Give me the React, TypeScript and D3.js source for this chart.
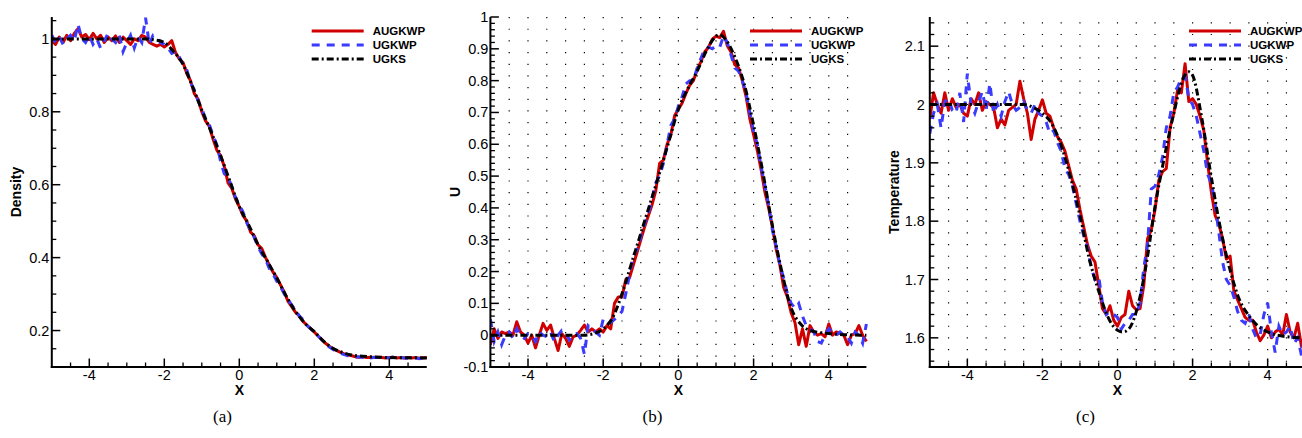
import React from 'react';
import * as d3 from 'd3';

// Cell centres of the particle solutions
const X_GRID = [
  -5.0, -4.9, -4.8, -4.7, -4.6, -4.5, -4.4, -4.3, -4.2, -4.1,
  -4.0, -3.9, -3.8, -3.7, -3.6, -3.5, -3.4, -3.3, -3.2, -3.1,
  -3.0, -2.9, -2.8, -2.7, -2.6, -2.5, -2.4, -2.3, -2.2, -2.1,
  -2.0, -1.9, -1.8, -1.7, -1.6, -1.5, -1.4, -1.3, -1.2, -1.1,
  -1.0, -0.9, -0.8, -0.7, -0.6, -0.5, -0.4, -0.3, -0.2, -0.1,
  0.0, 0.1, 0.2, 0.3, 0.4, 0.5, 0.6, 0.7, 0.8, 0.9,
  1.0, 1.1, 1.2, 1.3, 1.4, 1.5, 1.6, 1.7, 1.8, 1.9,
  2.0, 2.1, 2.2, 2.3, 2.4, 2.5, 2.6, 2.7, 2.8, 2.9,
  3.0, 3.1, 3.2, 3.3, 3.4, 3.5, 3.6, 3.7, 3.8, 3.9,
  4.0, 4.1, 4.2, 4.3, 4.4, 4.5, 4.6, 4.7, 4.8, 4.9, 5.0,
];

// (a) Density
const DENSITY_AUGKWP = [
  0.995, 0.985, 1.005, 0.99, 1.01, 0.995, 1.015, 1.028, 1.005, 1.012,
  0.998, 1.015, 1.0, 1.01, 0.99, 1.005, 0.995, 1.008, 0.99, 1.005,
  0.995, 0.985, 1.0, 0.995, 1.01, 1.005, 0.99, 0.985, 0.98, 0.985,
  0.978, 0.985, 0.995, 0.962, 0.945, 0.935, 0.905, 0.885, 0.85, 0.835,
  0.8, 0.775, 0.76, 0.725, 0.695, 0.68, 0.65, 0.605, 0.59, 0.56,
  0.54, 0.515, 0.5, 0.47, 0.46, 0.435, 0.425, 0.4, 0.38, 0.36,
  0.345, 0.325, 0.305, 0.28, 0.265, 0.25, 0.24, 0.225, 0.215, 0.205,
  0.196, 0.185, 0.175, 0.165, 0.157, 0.15, 0.145, 0.14, 0.136, 0.133,
  0.131, 0.128, 0.127, 0.128, 0.126, 0.127, 0.126, 0.127, 0.126, 0.125,
  0.126, 0.127, 0.125, 0.126, 0.125, 0.126, 0.125, 0.126, 0.124, 0.125, 0.126,
];
const DENSITY_UGKWP = [
  1.01, 0.99, 1.005, 0.985, 1.0, 1.01, 0.995, 1.04, 1.0, 0.99,
  1.01, 0.985, 1.0, 0.975, 0.995, 1.015, 1.0, 0.99, 1.01, 0.965,
  0.99, 1.01, 0.975, 1.005, 0.99, 1.058, 0.985, 1.01, 1.005, 0.99,
  0.985, 0.975, 0.96, 0.965, 0.95, 0.93, 0.915, 0.88, 0.86, 0.83,
  0.81, 0.78, 0.765, 0.735, 0.71, 0.665, 0.63, 0.62, 0.595, 0.565,
  0.545, 0.525, 0.495, 0.475, 0.455, 0.43, 0.41, 0.395, 0.37, 0.355,
  0.335, 0.32, 0.3, 0.285, 0.27, 0.255, 0.24, 0.23, 0.215, 0.205,
  0.195, 0.185, 0.175, 0.162, 0.155, 0.148, 0.142, 0.137, 0.134, 0.131,
  0.129, 0.127, 0.128, 0.126, 0.127, 0.125, 0.127, 0.126, 0.125, 0.126,
  0.125, 0.127, 0.124, 0.126, 0.125, 0.124, 0.126, 0.125, 0.123, 0.125, 0.126,
];
const DENSITY_UGKS_X = [-5, -2.5, -2.25, -2, -1.75, -1.5, -1.25, -1, -0.75, -0.5, -0.25, 0, 0.25, 0.5, 0.75, 1, 1.25, 1.5, 1.75, 2, 2.25, 2.5, 2.75, 3, 3.5, 4, 5];
const DENSITY_UGKS = [1, 1, 0.997, 0.99, 0.965, 0.93, 0.87, 0.805, 0.745, 0.68, 0.61, 0.54, 0.49, 0.435, 0.39, 0.344, 0.295, 0.252, 0.22, 0.197, 0.17, 0.151, 0.14, 0.133, 0.128, 0.126, 0.125];

// (b) U
const U_AUGKWP = [
  -0.03, 0.02, -0.01, 0.01, 0.005, 0.01, 0.0, 0.042, 0.01, 0.0,
  -0.025, 0.0, -0.04, 0.0, 0.037, 0.015, 0.032, -0.01, -0.048, 0.005,
  -0.01, -0.035, -0.005, 0.0, 0.015, 0.032, 0.01, 0.02, 0.01, 0.02,
  0.01, 0.03, 0.02, 0.1, 0.12, 0.12, 0.175, 0.18, 0.22, 0.26,
  0.3, 0.34, 0.375, 0.41, 0.455, 0.54, 0.55, 0.6, 0.63, 0.69,
  0.71, 0.73, 0.76, 0.785, 0.8, 0.835, 0.86, 0.89, 0.905, 0.93,
  0.94, 0.935, 0.955, 0.91, 0.89, 0.85, 0.84, 0.8, 0.75, 0.68,
  0.63, 0.58, 0.52, 0.45, 0.4, 0.34, 0.27, 0.22, 0.15, 0.12,
  0.07, 0.04, -0.03, 0.02, -0.035, 0.03, 0.01, 0.0, 0.005, -0.005,
  0.035, 0.0, 0.01, 0.005, 0.0, -0.03, 0.0, 0.005, 0.03, 0.0, -0.02,
];
const U_UGKWP = [
  0.05, -0.02, 0.01, -0.03, 0.0, 0.01, -0.01, 0.02, 0.0, -0.01,
  0.005, 0.0, -0.02, 0.01, 0.0, -0.005, 0.01, -0.02, 0.0, 0.015,
  0.01, -0.015, 0.0, 0.005, -0.01, -0.06, 0.03, 0.02, 0.01, 0.0,
  0.05, 0.045, 0.04, 0.05, 0.06, 0.075, 0.13, 0.19, 0.25, 0.27,
  0.31, 0.35, 0.38, 0.43, 0.48, 0.5, 0.54, 0.6, 0.66, 0.68,
  0.72, 0.75, 0.79, 0.8, 0.8, 0.84, 0.87, 0.9, 0.905, 0.9,
  0.91, 0.905, 0.94, 0.92, 0.88, 0.84, 0.83, 0.8, 0.76, 0.7,
  0.64, 0.6, 0.53, 0.47, 0.41, 0.33, 0.28, 0.22, 0.18, 0.13,
  0.1, 0.085, 0.1, 0.06, 0.03, 0.02, 0.01, -0.02, -0.025, 0.0,
  0.02, 0.01, 0.0, 0.01, 0.0, -0.005, -0.025, 0.01, 0.0, -0.025, 0.035,
];
const U_UGKS_X = [-5, -2.5, -2.25, -2, -1.75, -1.5, -1.25, -1, -0.75, -0.5, -0.25, 0, 0.25, 0.5, 0.75, 1, 1.1, 1.25, 1.5, 1.75, 2, 2.25, 2.5, 2.75, 3, 3.25, 3.5, 4, 4.5, 5];
const U_UGKS = [0, 0, 0.005, 0.02, 0.055, 0.13, 0.225, 0.32, 0.415, 0.51, 0.61, 0.71, 0.775, 0.83, 0.895, 0.94, 0.945, 0.93, 0.875, 0.79, 0.66, 0.51, 0.345, 0.2, 0.085, 0.035, 0.015, 0.005, 0.001, 0];

// (c) Temperature
const T_AUGKWP = [
  1.975, 2.02, 2.0, 1.985, 2.02, 1.99, 2.01, 1.995, 2.0, 1.985,
  1.98, 2.01, 2.0, 2.02, 1.99, 2.005, 2.0, 1.995, 1.96, 1.975,
  1.965, 1.99, 1.995, 2.0, 2.04, 2.01, 1.985, 1.94, 1.975, 1.99,
  2.008, 1.985, 1.98, 1.96, 1.945, 1.935, 1.92, 1.895, 1.87, 1.855,
  1.82, 1.79, 1.76, 1.74, 1.73, 1.69, 1.65, 1.64, 1.655, 1.63,
  1.62, 1.635, 1.64, 1.68, 1.655, 1.648, 1.65, 1.69, 1.77, 1.785,
  1.82, 1.87, 1.885, 1.89, 1.96, 1.985, 2.025, 2.02, 2.07, 2.005,
  2.01, 2.0, 1.98, 1.955, 1.9, 1.85, 1.81, 1.795, 1.77, 1.735,
  1.74, 1.68, 1.665, 1.65, 1.635, 1.63, 1.63, 1.61, 1.595, 1.605,
  1.62, 1.6, 1.61, 1.615, 1.605, 1.64, 1.61, 1.6, 1.625, 1.585, 1.61,
];
const T_UGKWP = [
  1.95, 1.985, 2.0, 1.96, 2.005, 2.01, 1.99, 1.985, 2.02, 1.97,
  2.053, 2.0, 1.985, 2.005, 2.022, 1.99, 2.036, 1.985, 2.0, 1.98,
  2.005, 2.022, 2.0, 1.99, 1.995, 2.005, 1.99, 1.985, 2.0, 1.985,
  1.98, 1.97, 1.95, 1.955, 1.935, 1.92, 1.89, 1.88, 1.86, 1.83,
  1.8, 1.775, 1.755, 1.72, 1.7, 1.705, 1.66, 1.64, 1.645, 1.64,
  1.635, 1.615, 1.625, 1.63, 1.64, 1.64, 1.66, 1.72, 1.76, 1.855,
  1.86, 1.88, 1.91, 1.96, 1.98, 2.02, 2.03, 2.045, 2.05, 2.01,
  2.0, 1.98, 1.95, 1.92, 1.88, 1.865, 1.83, 1.78, 1.73, 1.7,
  1.69, 1.67, 1.645, 1.63, 1.625, 1.64, 1.615, 1.6, 1.605, 1.64,
  1.66, 1.61, 1.575, 1.62, 1.605, 1.61, 1.62, 1.59, 1.6, 1.57, 1.615,
];
const T_UGKS_X = [-5, -2.5, -2.25, -2, -1.75, -1.5, -1.25, -1, -0.75, -0.5, -0.25, 0, 0.15, 0.3, 0.5, 0.75, 1, 1.25, 1.5, 1.75, 1.9, 2, 2.25, 2.5, 2.75, 3, 3.25, 3.5, 3.75, 4, 4.5, 5];
const T_UGKS = [2, 2, 1.995, 1.985, 1.967, 1.93, 1.875, 1.81, 1.735, 1.68, 1.635, 1.613, 1.61, 1.615, 1.645, 1.72, 1.825, 1.91, 1.985, 2.045, 2.056, 2.05, 1.975, 1.875, 1.785, 1.716, 1.665, 1.638, 1.62, 1.61, 1.602, 1.6];

// Axis ticks
const X_TICKS = [-4, -2, 0, 2, 4];
const X_TICK_LABELS = ['-4', '-2', '0', '2', '4'];
const DENSITY_Y_TICKS = [0.2, 0.4, 0.6, 0.8, 1];
const DENSITY_Y_LABELS = ['0.2', '0.4', '0.6', '0.8', '1'];
const U_Y_TICKS = [-0.1, 0, 0.1, 0.2, 0.3, 0.4, 0.5, 0.6, 0.7, 0.8, 0.9, 1];
const U_Y_LABELS = ['-0.1', '0', '0.1', '0.2', '0.3', '0.4', '0.5', '0.6', '0.7', '0.8', '0.9', '1'];
const T_Y_TICKS = [1.6, 1.7, 1.8, 1.9, 2, 2.1];
const T_Y_LABELS = ['1.6', '1.7', '1.8', '1.9', '2', '2.1'];

const LEGEND_LABELS = ['AUGKWP', 'UGKWP', 'UGKS'];
const CAPTIONS = ['(a)', '(b)', '(c)'];
const Y_TITLES = ['Density', 'U', 'Temperature'];

const RED = '#d10000';
const BLUE = '#3b3bff';
const BLACK = '#000000';
const SANS = '"Liberation Sans", Arial, Helvetica, sans-serif';

const TOP = 17;
const BOTTOM = 367;
const TICK_FONT = 14.5;

type Cfg = {
  id: string;
  left: number;
  right: number;
  yDomain: [number, number];
  yTicks: number[];
  yLabels: string[];
  yMinorStep: number;
  yTitle: string;
  yTitleX: number;
  labelGap: number;
  grid: boolean;
  gridStartValue?: number;
  legendX: number;
  caption: string;
  captionX: number;
  augkwp: number[];
  ugkwp: number[];
  ugksX: number[];
  ugks: number[];
};

function Panel({ c }: { c: Cfg }) {
  const x = d3.scaleLinear().domain([-5, 5]).range([c.left, c.right]);
  const y = d3.scaleLinear().domain(c.yDomain).range([BOTTOM, TOP]);
  const noisy = d3
    .line<number>()
    .x((_, i) => x(X_GRID[i]))
    .y((d) => y(d));
  const smooth = d3
    .line<[number, number]>()
    .x((d) => x(d[0]))
    .y((d) => y(d[1]))
    .curve(d3.curveMonotoneX);
  const ugksPts = c.ugksX.map((xv, i) => [xv, c.ugks[i]] as [number, number]);

  const kMin = Math.ceil(c.yDomain[0] / c.yMinorStep - 1e-6);
  const kMax = Math.floor(c.yDomain[1] / c.yMinorStep + 1e-6);
  const yMinor = d3
    .range(kMin, kMax + 1)
    .map((k) => k * c.yMinorStep)
    .filter((v) => !c.yTicks.some((t) => Math.abs(t - v) < 1e-6));
  const xMinor = d3
    .range(-9, 10)
    .map((k) => k * 0.5)
    .filter((v) => !X_TICKS.some((t) => Math.abs(t - v) < 1e-6));
  const gridXs = d3.range(-9, 10).map((k) => k * 0.5);

  const clipId = `clip-${c.id}`;
  const plotRight = Math.min(c.right, 1302);
  const gridTop = c.gridStartValue !== undefined ? y(c.gridStartValue) - 0.6 : TOP;

  return (
    <g>
      <defs>
        <clipPath id={clipId}>
          <rect x={c.left} y={TOP - 6} width={plotRight - c.left + 4} height={BOTTOM - TOP + 6} />
        </clipPath>
      </defs>
      {c.grid &&
        gridXs.map((gx) => (
          <line
            key={`g${gx}`}
            x1={x(gx)}
            x2={x(gx)}
            y1={gridTop}
            y2={BOTTOM}
            stroke="#000"
            strokeWidth={1.2}
            strokeDasharray="1.2 10.47"
          />
        ))}
      <g clipPath={`url(#${clipId})`}>
        <path d={noisy(c.augkwp) || ''} fill="none" stroke={RED} strokeWidth={3} strokeLinejoin="round" />
        <path d={noisy(c.ugkwp) || ''} fill="none" stroke={BLUE} strokeWidth={3} strokeDasharray="8 7" />
        <path d={smooth(ugksPts) || ''} fill="none" stroke={BLACK} strokeWidth={3} strokeDasharray="7 3 2 3" />
      </g>
      {/* axes */}
      <line x1={c.left} x2={c.left} y1={TOP} y2={BOTTOM + 1} stroke="#000" strokeWidth={2} />
      <line x1={c.left - 1} x2={c.right} y1={BOTTOM} y2={BOTTOM} stroke="#000" strokeWidth={2} />
      {c.yTicks.map((t, i) => (
        <g key={`yt${i}`}>
          <line x1={c.left} x2={c.left + 8.5} y1={y(t)} y2={y(t)} stroke="#000" strokeWidth={1.5} />
          <text
            x={c.left - c.labelGap}
            y={y(t) + 5}
            textAnchor="end"
            fontFamily={SANS}
            fontSize={TICK_FONT}
            fill="#000"
          >
            {c.yLabels[i]}
          </text>
        </g>
      ))}
      {yMinor.map((t) => (
        <line key={`ym${t}`} x1={c.left} x2={c.left + 4.5} y1={y(t)} y2={y(t)} stroke="#000" strokeWidth={1.3} />
      ))}
      {X_TICKS.map((t, i) => (
        <g key={`xt${i}`}>
          <line x1={x(t)} x2={x(t)} y1={BOTTOM} y2={BOTTOM - 8.5} stroke="#000" strokeWidth={1.5} />
          <text x={x(t)} y={379.5} textAnchor="middle" fontFamily={SANS} fontSize={TICK_FONT} fill="#000">
            {X_TICK_LABELS[i]}
          </text>
        </g>
      ))}
      {xMinor.map((t) => (
        <line key={`xm${t}`} x1={x(t)} x2={x(t)} y1={BOTTOM} y2={BOTTOM - 4.5} stroke="#000" strokeWidth={1.3} />
      ))}
      <text x={x(0)} y={395} textAnchor="middle" fontFamily={SANS} fontWeight="bold" fontSize={14} fill="#000">
        X
      </text>
      <text
        transform={`translate(${c.yTitleX},192) rotate(-90)`}
        textAnchor="middle"
        fontFamily={SANS}
        fontWeight="bold"
        fontSize={14}
        fill="#000"
      >
        {c.yTitle}
      </text>
      {/* legend */}
      {LEGEND_LABELS.map((lab, i) => {
        const ly = 31 + i * 14;
        const stroke = i === 0 ? RED : i === 1 ? BLUE : BLACK;
        const dash = i === 0 ? undefined : i === 1 ? '8 7' : '7 3 2 3';
        return (
          <g key={lab}>
            <line x1={c.legendX} x2={c.legendX + 52} y1={ly} y2={ly} stroke={stroke} strokeWidth={3} strokeDasharray={dash} />
            <text x={c.legendX + 61} y={ly + 4.2} fontFamily={SANS} fontWeight="bold" fontSize={11.5} fill="#000">
              {lab}
            </text>
          </g>
        );
      })}
      <text x={c.captionX} y={422} textAnchor="middle" fontFamily='"Liberation Serif", "DejaVu Serif", serif' fontSize={17} fill="#000">
        {c.caption}
      </text>
    </g>
  );
}

const PANELS: Cfg[] = [
  {
    id: 'a',
    left: 51.8,
    right: 426.8,
    yDomain: [0.1, 1.06],
    yTicks: DENSITY_Y_TICKS,
    yLabels: DENSITY_Y_LABELS,
    yMinorStep: 0.05,
    yTitle: Y_TITLES[0],
    yTitleX: 21,
    labelGap: 2.5,
    grid: false,
    legendX: 311.7,
    caption: CAPTIONS[0],
    captionX: 222.5,
    augkwp: DENSITY_AUGKWP,
    ugkwp: DENSITY_UGKWP,
    ugksX: DENSITY_UGKS_X,
    ugks: DENSITY_UGKS,
  },
  {
    id: 'b',
    left: 490.4,
    right: 866.4,
    yDomain: [-0.1, 1],
    yTicks: U_Y_TICKS,
    yLabels: U_Y_LABELS,
    yMinorStep: 0.02,
    yTitle: Y_TITLES[1],
    yTitleX: 460,
    labelGap: 2,
    grid: true,
    legendX: 750,
    caption: CAPTIONS[1],
    captionX: 652.5,
    augkwp: U_AUGKWP,
    ugkwp: U_UGKWP,
    ugksX: U_UGKS_X,
    ugks: U_UGKS,
  },
  {
    id: 'c',
    left: 929.8,
    right: 1305.2,
    yDomain: [1.55, 2.15],
    yTicks: T_Y_TICKS,
    yLabels: T_Y_LABELS,
    yMinorStep: 0.02,
    yTitle: Y_TITLES[2],
    yTitleX: 898.5,
    labelGap: 5,
    grid: true,
    gridStartValue: 2.14,
    legendX: 1189,
    caption: CAPTIONS[2],
    captionX: 1085.5,
    augkwp: T_AUGKWP,
    ugkwp: T_UGKWP,
    ugksX: T_UGKS_X,
    ugks: T_UGKS,
  },
];

export default function App() {
  return (
    <svg
      width={1302}
      height={438}
      viewBox="0 0 1302 438"
      style={{ position: 'absolute', left: 0, top: 0, background: '#fff', display: 'block' }}
    >
      <rect x={0} y={0} width={1302} height={438} fill="#fff" />
      {PANELS.map((p) => (
        <Panel key={p.id} c={p} />
      ))}
    </svg>
  );
}
